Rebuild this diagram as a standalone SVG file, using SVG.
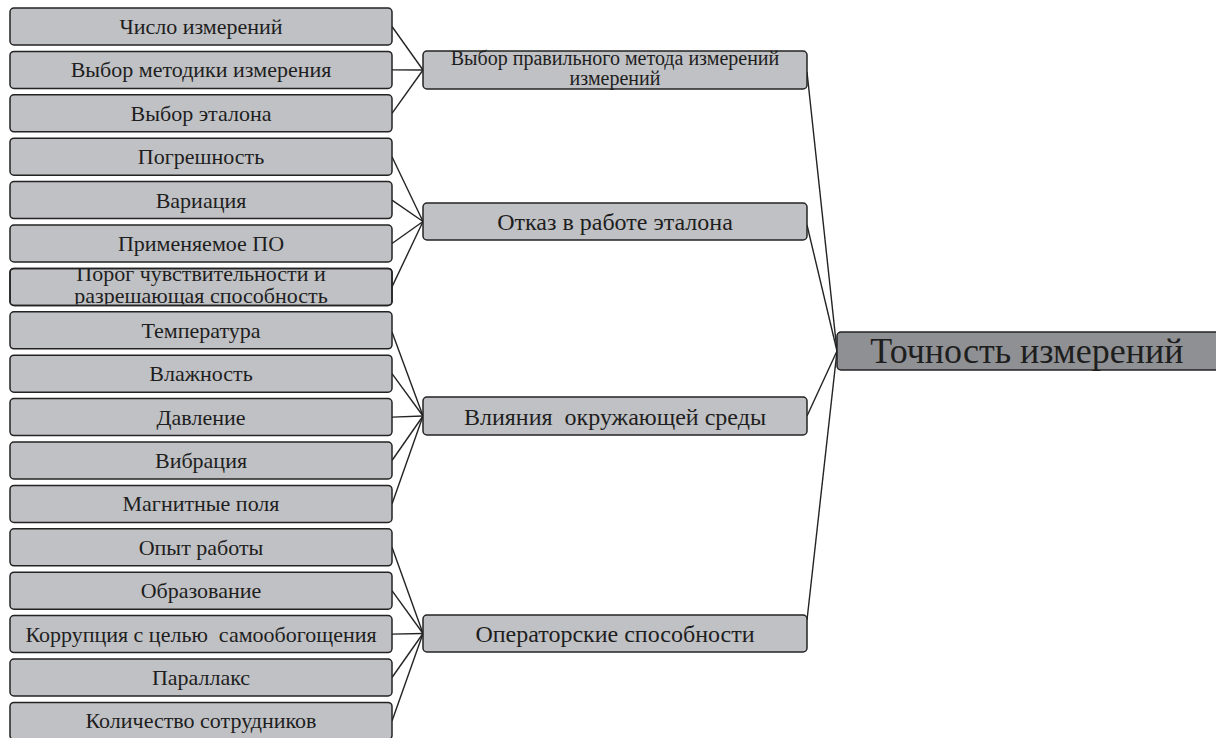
<svg xmlns="http://www.w3.org/2000/svg" width="1216" height="738" viewBox="0 0 1216 738">
<style>
.box{fill:#c0c1c4;stroke:#232323;stroke-width:1.5}
.main{fill:#8f9094;stroke:#232323;stroke-width:1.5}
.t{font-family:"Liberation Serif","Times New Roman",serif;font-size:22px;fill:#1e1e1e;text-anchor:middle;white-space:pre}
.m{font-size:24px}
.s{font-size:20px}
.big{font-size:36px}
.c line{stroke:#232323;stroke-width:1.4}
</style>
<defs>
<clipPath id="clipPorog"><rect x="10" y="268.4" width="382" height="36.2"/></clipPath>
</defs>
<rect width="1216" height="738" fill="#ffffff"/>
<g id="connectors" class="c">
<line x1="392" y1="26.5" x2="423" y2="70"/>
<line x1="392" y1="69.9" x2="423" y2="70"/>
<line x1="392" y1="113.3" x2="423" y2="70"/>
<line x1="392" y1="156.7" x2="423" y2="221.5"/>
<line x1="392" y1="200.1" x2="423" y2="221.5"/>
<line x1="392" y1="243.5" x2="423" y2="221.5"/>
<line x1="392" y1="286.9" x2="423" y2="221.5"/>
<line x1="392" y1="332" x2="423" y2="416"/>
<line x1="392" y1="373.7" x2="423" y2="416"/>
<line x1="392" y1="417.1" x2="423" y2="416"/>
<line x1="392" y1="460.5" x2="423" y2="416"/>
<line x1="392" y1="503.9" x2="423" y2="416"/>
<line x1="392" y1="547.3" x2="423" y2="633.5"/>
<line x1="392" y1="590.7" x2="423" y2="633.5"/>
<line x1="392" y1="634.1" x2="423" y2="633.5"/>
<line x1="392" y1="677.5" x2="423" y2="633.5"/>
<line x1="392" y1="720.9" x2="423" y2="633.5"/>
<line x1="807" y1="72" x2="837" y2="351"/>
<line x1="807" y1="225" x2="837" y2="351"/>
<line x1="807" y1="416" x2="837" y2="351"/>
<line x1="807" y1="620" x2="837" y2="351"/>
</g>
<g id="n1"><rect class="box" x="10" y="8" width="382" height="37" rx="4"/><text class="t" x="201" y="34">Число измерений</text></g>
<g id="n2"><rect class="box" x="10" y="51.4" width="382" height="37" rx="4"/><text class="t" x="201" y="77.4">Выбор методики измерения</text></g>
<g id="n3"><rect class="box" x="10" y="94.8" width="382" height="37" rx="4"/><text class="t" x="201" y="120.8">Выбор эталона</text></g>
<g id="n4"><rect class="box" x="10" y="138.2" width="382" height="37" rx="4"/><text class="t" x="201" y="164.2">Погрешность</text></g>
<g id="n5"><rect class="box" x="10" y="181.6" width="382" height="37" rx="4"/><text class="t" x="201" y="207.6">Вариация</text></g>
<g id="n6"><rect class="box" x="10" y="225" width="382" height="37" rx="4"/><text class="t" x="201" y="251">Применяемое ПО</text></g>
<g id="n7"><rect class="box" x="10" y="268.4" width="382" height="37" rx="4"/><g clip-path="url(#clipPorog)"><text class="t" x="201" y="281">Порог чувствительности и</text><text class="t" x="201" y="303">разрешающая способность</text></g><rect x="10" y="268.4" width="382" height="37" rx="4" fill="none" stroke="#232323" stroke-width="1.5"/></g>
<g id="n8"><rect class="box" x="10" y="311.8" width="382" height="37" rx="4"/><text class="t" x="201" y="337.8">Температура</text></g>
<g id="n9"><rect class="box" x="10" y="355.2" width="382" height="37" rx="4"/><text class="t" x="201" y="381.2">Влажность</text></g>
<g id="n10"><rect class="box" x="10" y="398.6" width="382" height="37" rx="4"/><text class="t" x="201" y="424.6">Давление</text></g>
<g id="n11"><rect class="box" x="10" y="442" width="382" height="37" rx="4"/><text class="t" x="201" y="468">Вибрация</text></g>
<g id="n12"><rect class="box" x="10" y="485.4" width="382" height="37" rx="4"/><text class="t" x="201" y="511.4">Магнитные поля</text></g>
<g id="n13"><rect class="box" x="10" y="528.8" width="382" height="37" rx="4"/><text class="t" x="201" y="554.8">Опыт работы</text></g>
<g id="n14"><rect class="box" x="10" y="572.2" width="382" height="37" rx="4"/><text class="t" x="201" y="598.2">Образование</text></g>
<g id="n15"><rect class="box" x="10" y="615.6" width="382" height="37" rx="4"/><text class="t" x="201" y="641.6">Коррупция с целью  самообогощения</text></g>
<g id="n16"><rect class="box" x="10" y="659" width="382" height="37" rx="4"/><text class="t" x="201" y="685">Параллакс</text></g>
<g id="n17"><rect class="box" x="10" y="702.4" width="382" height="37" rx="4"/><text class="t" x="201" y="728.4">Количество сотрудников</text></g>
<g id="m1"><rect class="box" x="423" y="51" width="384" height="38" rx="4"/><text class="t s" x="615" y="65">Выбор правильного метода измерений</text><text class="t s" x="615" y="85">измерений</text></g>
<g id="m2"><rect class="box" x="423" y="203" width="384" height="37" rx="4"/><text class="t m" x="615" y="230">Отказ в работе эталона</text></g>
<g id="m3"><rect class="box" x="423" y="397" width="384" height="38" rx="4"/><text class="t m" x="615" y="424.5">Влияния  окружающей среды</text></g>
<g id="m4"><rect class="box" x="423" y="615" width="384" height="37" rx="4"/><text class="t m" x="615" y="642">Операторские способности</text></g>
<g id="root"><rect class="main" x="837" y="332" width="400" height="38" rx="4"/><text class="t big" x="1027" y="363">Точность измерений</text></g>
</svg>
